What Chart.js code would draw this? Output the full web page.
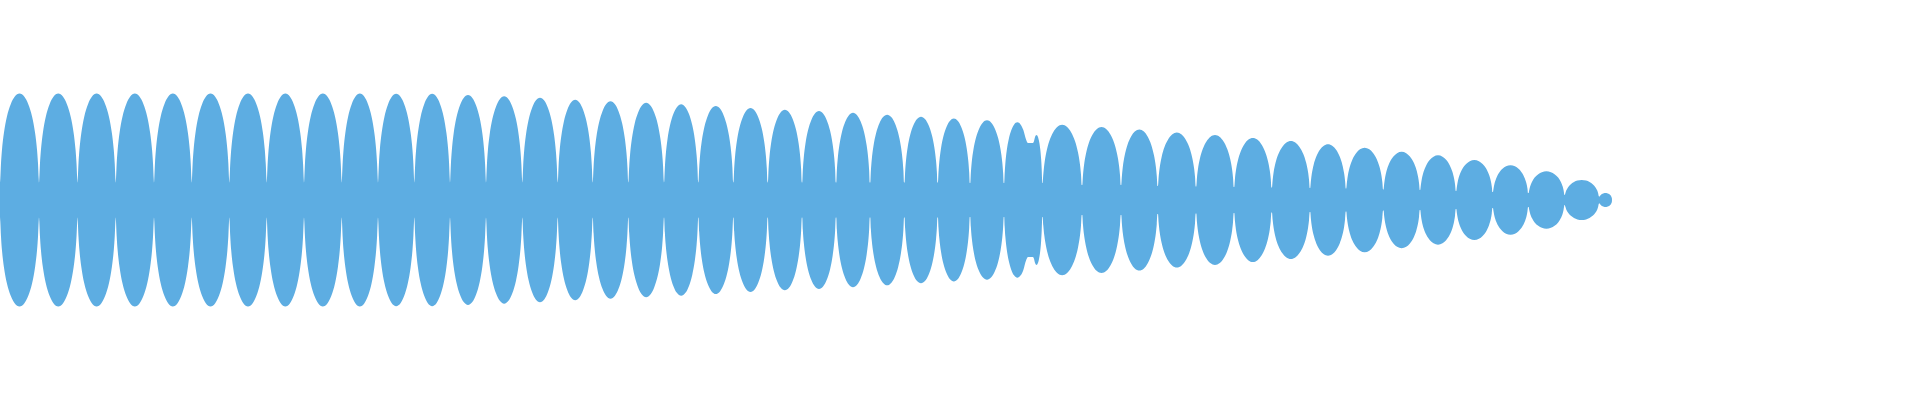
<!DOCTYPE html>
<html>
<head>
<meta charset="utf-8">
<title>Waveform</title>
<script src="https://cdn.jsdelivr.net/npm/chart.js@4.4.1/dist/chart.umd.min.js"></script>
<style>
  html, body { margin: 0; padding: 0; background: #ffffff; overflow: hidden; }
  #wrap { width: 1920px; height: 400px; }
</style>
</head>
<body>
<div id="wrap"><canvas id="waveChart"></canvas></div>
<script>
// Boundaries between lobes (nodes), read along the time axis
const nodeX = [0, 39, 77.5, 115.7, 154, 191.7, 229.3, 266.7, 304, 341.7,
  378, 414.3, 450, 486, 522.3, 557.7, 592.7, 628.3, 664, 698.3,
  733.3, 767.7, 802, 836, 870, 904.3, 937.7, 970, 1004, 1030.7, 1042.3,
  1082, 1121, 1157.7, 1196, 1234, 1271.7, 1310, 1346, 1383.3, 1420,
  1456, 1492.7, 1528.3, 1564.5, 1599, 1612];

// Peak amplitude of each lobe (one less than nodes)
const peakAmp = [106.5, 106.5, 106.5, 106.5, 106.5, 106.5, 106.5, 106.5, 106.5, 106.5,
  106.2, 106.2, 105, 103.7, 102.2, 100.3, 98.7, 97.2, 95.7, 94,
  92, 90.3, 89, 87.2, 85.2, 83.3, 81.5, 79.7, 77.7, 65, 75.2,
  73, 70.5, 67.5, 65, 62, 59, 55.7, 52.2, 48.3, 44.7,
  40, 34.7, 28.7, 20, 7];

// Residual amplitude at each node
const bandAmp = [17, 17.5, 17.5, 17.5, 17.5, 17.5, 17.5, 17.5, 17.5, 17.5,
  17.5, 17.5, 17.5, 17.5, 17.5, 17.5, 17.5, 17.5, 17.5, 17.5,
  17.5, 17.5, 17.5, 17.5, 17.5, 17.5, 17.5, 17, 17, 57, 17,
  15, 15, 14, 13.5, 13, 12.5, 12, 11.5, 10.5, 10,
  9, 8, 7, 5, 3.5, 0];

// lobe outline template: offset from lobe centre (fraction of half width) -> height fraction
const shapeOffset = [0.985, 0.95, 0.9, 0.8, 0.65, 0.45, 0.25];
const shapeHeight = [0.2, 0.34, 0.47, 0.63, 0.78, 0.9, 0.97];

const waveColor = "#5DADE2";

// build the upper envelope
const upper = [];
for (let i = 0; i < peakAmp.length; i++) {
  const a = nodeX[i], b = nodeX[i + 1];
  const c = (a + b) / 2, h = (b - a) / 2;
  const amp = peakAmp[i];
  upper.push({ x: a, y: bandAmp[i] });
  for (let k = 0; k < shapeOffset.length; k++) {
    upper.push({ x: c - shapeOffset[k] * h, y: Math.max(bandAmp[i], shapeHeight[k] * amp) });
  }
  upper.push({ x: c, y: amp });
  for (let k = shapeOffset.length - 1; k >= 0; k--) {
    upper.push({ x: c + shapeOffset[k] * h, y: Math.max(bandAmp[i + 1], shapeHeight[k] * amp) });
  }
}
upper.push({ x: nodeX[nodeX.length - 1], y: bandAmp[bandAmp.length - 1] });

const lower = upper.map(p => ({ x: p.x, y: -p.y }));

const config = {
  type: "line",
  data: {
    datasets: [
      {
        label: "upper",
        data: upper,
        fill: "+1",
        backgroundColor: waveColor,
        borderColor: "transparent",
        borderWidth: 0,
        pointRadius: 0,
        cubicInterpolationMode: "monotone",
      },
      {
        label: "lower",
        data: lower,
        fill: false,
        backgroundColor: waveColor,
        borderColor: "transparent",
        borderWidth: 0,
        pointRadius: 0,
        cubicInterpolationMode: "monotone",
      },
    ],
  },
  options: {
    responsive: true,
    maintainAspectRatio: false,
    animation: false,
    layout: { padding: 0 },
    plugins: {
      legend: { display: false },
      tooltip: { enabled: false },
    },
    scales: {
      x: { type: "linear", min: 0, max: 1920, display: false },
      y: { min: -200, max: 200, display: false },
    },
  },
};

const waveChart = new Chart(document.getElementById("waveChart"), config);
</script>
</body>
</html>
